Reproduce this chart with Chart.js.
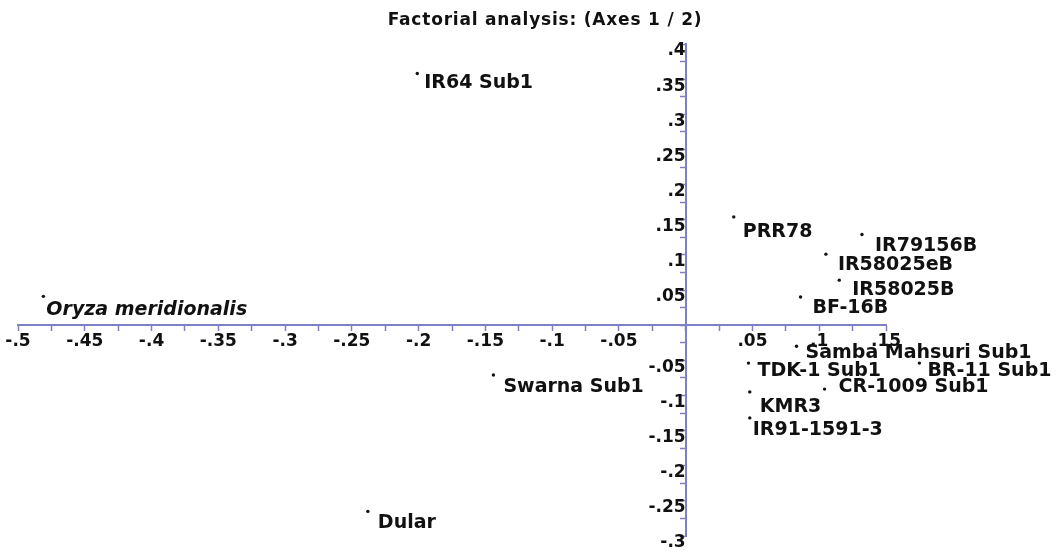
<!DOCTYPE html>
<html>
<head>
<meta charset="utf-8">
<script src="https://cdn.jsdelivr.net/npm/chart.js@4/dist/chart.umd.min.js"></script>
<style>
  html, body { margin: 0; padding: 0; background: #fff; }
  #wrap { position: relative; width: 1056px; height: 554px; overflow: hidden; }
  #title { position: absolute; left: 545px; top: 9px; transform: translateX(-50%); white-space: nowrap;
           font: bold 17px "DejaVu Sans", sans-serif; letter-spacing: 0.8px; color: #111; }
  canvas { position: absolute; left: 0; top: 0; }
</style>
</head>
<body>
<div id="wrap">
  <canvas id="c" width="1056" height="554"></canvas>
  <div id="title">Factorial analysis: (Axes 1 / 2)</div>
</div>
<script>
// ---- data ----
const names = ['Oryza meridionalis', 'IR64 Sub1', 'PRR78', 'IR79156B', 'IR58025eB', 'IR58025B', 'BF-16B',
  'Samba Mahsuri Sub1', 'TDK-1 Sub1', 'BR-11 Sub1', 'CR-1009 Sub1', 'KMR3', 'IR91-1591-3', 'Swarna Sub1', 'Dular'];
const axis1 = [-0.481, -0.201, 0.036, 0.132, 0.105, 0.115, 0.086, 0.083, 0.047, 0.175, 0.104, 0.048, 0.048, -0.144, -0.238];
const axis2 = [0.041, 0.358, 0.154, 0.129, 0.101, 0.064, 0.040, -0.030, -0.054, -0.054, -0.091, -0.095, -0.132, -0.071, -0.265];
const italicNames = ['Oryza meridionalis'];

const xTickValues = [-0.5, -0.45, -0.4, -0.35, -0.3, -0.25, -0.2, -0.15, -0.1, -0.05, 0.05, 0.1, 0.15];
const xTickLabels = ['-.5', '-.45', '-.4', '-.35', '-.3', '-.25', '-.2', '-.15', '-.1', '-.05', '.05', '.1', '.15'];
const yTickValues = [-0.3, -0.25, -0.2, -0.15, -0.1, -0.05, 0.05, 0.1, 0.15, 0.2, 0.25, 0.3, 0.35, 0.4];
const yTickLabels = ['-.3', '-.25', '-.2', '-.15', '-.1', '-.05', '.05', '.1', '.15', '.2', '.25', '.3', '.35', '.4'];

// label placement (style only): [dx, dy] from each point
const labelOffsets = [[3, 14], [7, 10], [9, 15], [13, 12], [12, 11], [13, 10], [12, 11],
  [9, 7], [9, 8], [8, 8], [14, -2], [10, 15], [3, 12], [10, 12], [10, 12]];

function lookup(values, labels, v) {
  for (let i = 0; i < values.length; i++) if (Math.abs(values[i] - v) < 1e-6) return labels[i];
  return '';
}

const axisColor = '#7f7fc6';
const tickFont = { family: '"DejaVu Sans"', size: 17, weight: 'bold' };

// let points just outside the axis range (e.g. BR-11 Sub1) still be drawn
const wideArea = {
  id: 'wideArea',
  beforeDatasetsDraw(chart) {
    const a = chart.chartArea;
    this._saved = { left: a.left, right: a.right, top: a.top, bottom: a.bottom };
    a.left -= 20; a.right += 160; a.top -= 40; a.bottom += 15;
  },
  afterDatasetsDraw(chart) {
    Object.assign(chart.chartArea, this._saved);
  }
};

const pointLabels = {
  id: 'pointLabels',
  afterDatasetsDraw(chart) {
    const ctx = chart.ctx;
    const meta = chart.getDatasetMeta(0);
    ctx.save();
    ctx.fillStyle = '#111';
    ctx.textBaseline = 'middle';
    ctx.textAlign = 'left';
    meta.data.forEach((pt, i) => {
      const it = italicNames.includes(names[i]);
      ctx.font = (it ? 'italic ' : '') + 'bold 19px "DejaVu Sans"';
      const off = labelOffsets[i];
      ctx.fillText(names[i], pt.x + off[0], pt.y + off[1]);
    });
    ctx.restore();
  }
};

new Chart(document.getElementById('c'), {
  type: 'scatter',
  data: {
    datasets: [{
      data: axis1.map((x, i) => ({ x: x, y: axis2[i] })),
      pointRadius: 1.7,
      pointHoverRadius: 1.7,
      pointBackgroundColor: '#111',
      pointBorderWidth: 0,
      clip: false
    }]
  },
  plugins: [wideArea, pointLabels],
  options: {
    responsive: false,
    animation: false,
    events: [],
    layout: { autoPadding: false, padding: { left: 18, right: 170, top: 44, bottom: 18 } },
    plugins: { legend: { display: false }, title: { display: false }, tooltip: { enabled: false } },
    scales: {
      x: {
        type: 'linear', min: -0.5, max: 0.15, position: { y: 0 },
        border: { display: true, color: axisColor, width: 2 },
        grid: { display: true, drawOnChartArea: false, drawTicks: true, tickLength: 5, tickColor: axisColor, tickWidth: 1.5 },
        ticks: {
          stepSize: 0.025, autoSkip: false, maxRotation: 0, minRotation: 0, padding: 1,
          color: '#111', font: tickFont,
          callback: (v) => lookup(xTickValues, xTickLabels, v)
        }
      },
      y: {
        type: 'linear', min: -0.3, max: 0.4, position: { x: 0 },
        border: { display: true, color: axisColor, width: 2 },
        grid: { display: true, drawOnChartArea: false, drawTicks: true, tickLength: 5, tickColor: axisColor, tickWidth: 1.5 },
        ticks: {
          stepSize: 0.025, autoSkip: false, padding: -4, labelOffset: 7,
          color: '#111', font: tickFont,
          callback: (v) => lookup(yTickValues, yTickLabels, v)
        }
      }
    }
  }
});
</script>
</body>
</html>
